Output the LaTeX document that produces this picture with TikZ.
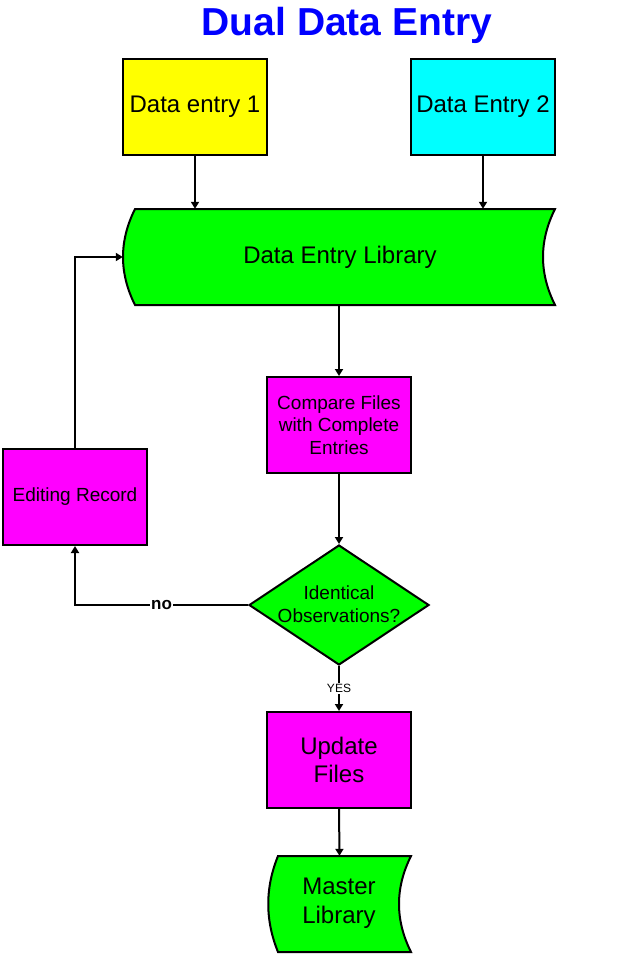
\documentclass[tikz,border=0pt]{standalone}
\usepackage{fontspec}
\setmainfont{Liberation Sans}
\usetikzlibrary{arrows.meta,shapes.geometric}
\definecolor{cyel}{RGB}{255,255,0}
\definecolor{ccya}{RGB}{0,255,255}
\definecolor{cgrn}{RGB}{0,255,0}
\definecolor{cmag}{RGB}{255,0,255}
\definecolor{cblu}{RGB}{0,0,255}
\tikzset{
  boxnode/.style={draw=black,line width=2pt,minimum width=144pt,minimum height=96pt,inner sep=0pt,align=center},
  bigtxt/.style={font=\fontsize{24}{28.5}\selectfont},
  smalltxt/.style={font=\fontsize{19}{22.5}\selectfont},
  conn/.style={line width=2pt,-{Triangle[length=7pt,width=8pt]}},
  shapeline/.style={draw=black,line width=2pt,fill=cgrn,line join=miter},
}
\begin{document}
\begin{tikzpicture}[x=1pt,y=-1pt]
\useasboundingbox (0,0) rectangle (629,958);
% title
\node (title) at (347,25) {\fontsize{39}{45}\selectfont\bfseries\color{cblu}Dual Data Entry};
% top boxes
\node[boxnode,fill=cyel,bigtxt] (d1) at (195,107) {Data entry 1};
\node[boxnode,fill=ccya,bigtxt] (d2) at (483,107) {Data Entry 2};
% library
\node[minimum width=432pt,minimum height=96pt,inner sep=0pt] (lib) at (339,257) {};
\path[shapeline] (135,209) -- (555,209) .. controls (539,241) and (539,273) .. (555,305)
  -- (135,305) .. controls (119,273) and (119,241) .. (135,209) -- cycle;
\node[bigtxt] (libtxt) at (340,257) {Data Entry Library};
% compare
\node[boxnode,fill=cmag,smalltxt] (cmp) at (339,425) {Compare Files\\with Complete\\Entries};
% diamond
\node[diamond,draw=black,line width=2pt,fill=cgrn,minimum width=180pt,minimum height=120pt,inner sep=0pt] (dia) at (339,605) {};
\node[smalltxt,align=center] (diatxt) at (339,604) {Identical\\Observations?};
% editing record
\node[boxnode,fill=cmag,smalltxt] (edit) at (75,497) {Editing Record};
% update
\node[boxnode,fill=cmag,bigtxt] (upd) at (339,760) {Update\\Files};
% master library
\node[minimum width=143pt,minimum height=96pt,inner sep=0pt] (mlib) at (339.5,904) {};
\path[shapeline] (278,856) -- (411,856) .. controls (395,888) and (395,920) .. (411,952)
  -- (278,952) .. controls (265,920) and (265,888) .. (278,856) -- cycle;
\node[bigtxt,align=center] (mtxt) at (339,903) {Master\\Library};
% connectors
\draw[conn] (d1.south) -- (d1.south |- lib.north);
\draw[conn] (d2.south) -- (d2.south |- lib.north);
\draw[conn] (lib.south) -- (cmp.north);
\draw[conn] (cmp.south) -- (dia.north);
\draw[conn] (dia.west) -| node[pos=0.25,fill=white,inner sep=1pt,font=\fontsize{17}{20}\selectfont\bfseries] (nolbl) {no} (edit.south);
\draw[conn] (edit.north) |- (lib.west);
\draw[conn] (dia.south) -- node[pos=0.5,fill=white,inner sep=1pt,font=\fontsize{12}{14}\selectfont] (yeslbl) {YES} (upd.north);
\draw[conn] (upd.south) -- (mlib.north);
\end{tikzpicture}
\end{document}
